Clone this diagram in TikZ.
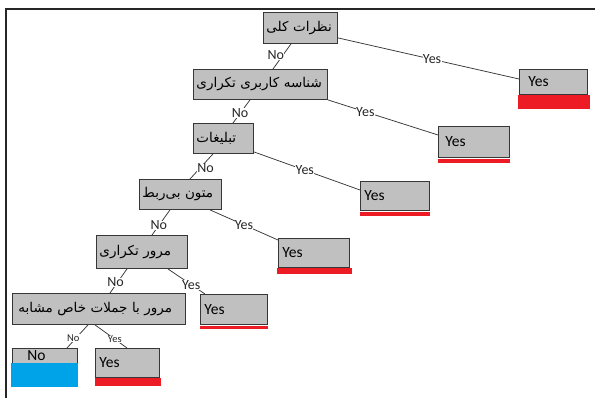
\documentclass[tikz,border=0pt]{standalone}
\usepackage{fontspec}
\setmainfont{Carlito}
\newfontfamily\persian[Script=Arabic]{DejaVu Sans}
\TeXXeTstate=1
\usetikzlibrary{calc}
\definecolor{boxgray}{RGB}{192,192,192}
\definecolor{edgegray}{RGB}{55,55,55}
\definecolor{barred}{RGB}{237,28,36}
\definecolor{barblue}{RGB}{0,162,232}
\tikzset{
  dnode/.style={draw=edgegray, fill=boxgray, line width=0.9pt, anchor=north west,
    inner xsep=3pt, inner ysep=0pt, align=left, font=\persian\fontsize{13.5}{15}\selectfont},
  leafbox/.style={draw=edgegray, fill=boxgray, line width=0.9pt, anchor=north west,
    inner xsep=4pt, inner ysep=0pt, align=left, font=\fontsize{15.5}{16}\selectfont},
  conn/.style={draw=edgegray, line width=0.75pt},
  lab/.style={fill=white, inner sep=0.3pt, font=\fontsize{14}{15}\selectfont, text=black!85},
  slab/.style={fill=white, inner sep=0.3pt, font=\fontsize{10.5}{11}\selectfont, text=black!85},
  frame/.style={draw=black!85, line width=2pt},
}
\begin{document}
\begin{tikzpicture}[x=1pt,y=-1pt]
\useasboundingbox (0,0) rectangle (595,398);
\draw[frame] (6,398) -- (6,9) -- (595,9);

% decision nodes
\node[dnode, text width=68pt, minimum height=31pt] (n1) at (263,12) {\beginR نظرات کلی\endR};
\node[dnode, text width=128pt, minimum height=30pt] (n2) at (193,69) {\beginR شناسه کاربری تکراری\endR};
\node[dnode, text width=54pt, minimum height=30pt] (n3) at (193,123) {\beginR تبلیغات\endR};
\node[dnode, text width=76pt, minimum height=30pt] (n4) at (139,179) {\beginR متون بی‌ربط\endR};
\node[dnode, text width=85pt, minimum height=33pt] (n5) at (96,235) {\beginR مرور تکراری\endR};
\node[dnode, text width=167pt, minimum height=31pt] (n6) at (12,293) {\hspace*{3pt}\beginR مرور با جملات خاص مشابه\endR};

% leaves
\node[leafbox, inner xsep=0pt, text width=68pt, minimum height=25pt] (l1) at (519,69) {\hspace*{9pt}\raisebox{-2pt}{Yes}};
\node[leafbox, inner xsep=0pt, text width=71pt, minimum height=31pt] (l2) at (438,126) {\hspace*{7pt}Yes};
\node[leafbox, text width=61pt, minimum height=29pt] (l3) at (360,181) {Yes};
\node[leafbox, text width=63pt, minimum height=29pt] (l4) at (278,238) {Yes};
\node[leafbox, text width=59pt, minimum height=30pt] (l5) at (200,294) {Yes};
\node[leafbox, text width=56pt, minimum height=29pt] (l6) at (95,348) {Yes};
\node[leafbox, inner xsep=0pt, text width=65pt, minimum height=15pt] (lno) at (12,348) {\hspace*{15pt}No};

% bars
\fill[barred] ($(l1.south west)+(-1,0)$) rectangle ($(l1.south east)+(2,14)$);
\fill[barred] ($(l2.south west)+(0,0.8)$) rectangle ($(l2.south east)+(0,5)$);
\fill[barred] ($(l3.south west)+(0,0.8)$) rectangle ($(l3.south east)+(0,5)$);
\fill[barred] ($(l4.south west)+(-1,0)$) rectangle ($(l4.south east)+(2,6)$);
\fill[barred] ($(l5.south west)+(0,0.8)$) rectangle ($(l5.south east)+(0,4)$);
\fill[barred] ($(l6.south west)+(0,0)$) rectangle ($(l6.south east)+(1,8)$);
\fill[barblue] ($(lno.south west)+(-1,-1)$) rectangle ($(lno.south east)+(0,23)$);

% yes connectors
\draw[conn] ($(n1.south east)+(0,-6)$) -- node[lab, pos=0.52] {Yes} ($(l1.north west)+(0,10)$);
\draw[conn] (n2.south east) -- node[lab, pos=0.34] {Yes} ($(l2.north west)+(0,9)$);
\draw[conn] ($(n3.south east)+(0,-2)$) -- node[lab, pos=0.48] {Yes} ($(l3.north west)+(0,9)$);
\draw[conn] ($(n4.south west)+(71,0)$) -- node[lab, pos=0.5] {Yes} ($(l4.north west)+(0,2)$);
\draw[conn] ($(n5.south east)+(-20,0)$) -- node[lab, pos=0.63] {Yes} ($(l5.north west)+(5,0)$);
\draw[conn] ($(n6.south west)+(83,0)$) -- node[slab, pos=0.62] {Yes} ($(l6.north west)+(32,0)$);

% no connectors
\draw[conn] ($(n1.south west)+(28,0)$) -- node[lab, pos=0.46, xshift=-7pt] {No} ($(n2.north west)+(80,0)$);
\draw[conn] ($(n2.south west)+(57,0)$) -- node[lab, pos=0.58] {No} ($(n3.north west)+(40,0)$);
\draw[conn] ($(n3.south west)+(20,0)$) -- node[lab, pos=0.58, xshift=6pt] {No} ($(n4.north west)+(51,0)$);
\draw[conn] ($(n4.south west)+(31,0)$) -- node[lab, pos=0.62] {No} ($(n5.north west)+(56,0)$);
\draw[conn] ($(n5.south west)+(31,0)$) -- node[lab, pos=0.56, xshift=-2pt] {No} ($(n6.north west)+(98,0)$);
\draw[conn] ($(n6.south west)+(76,0)$) -- node[slab, pos=0.56, xshift=-3pt] {No} ($(lno.north west)+(55,0)$);
\end{tikzpicture}
\end{document}
